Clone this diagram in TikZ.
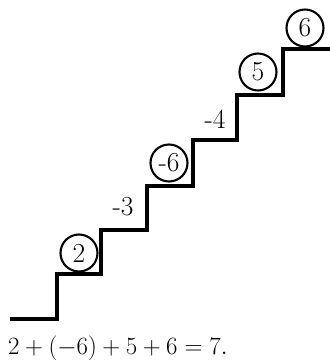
\documentclass[tikz,border=0pt]{standalone}
\begin{document}
\begin{tikzpicture}[x=1pt,y=-1pt,
  stair/.style={line width=4pt,line join=miter},
  num/.style={circle,draw,line width=2.1pt,inner sep=1pt,minimum size=37pt,font=\fontsize{27.5}{32}\selectfont},
  lab/.style={inner sep=0pt,font=\fontsize{27.5}{32}\selectfont}]
\useasboundingbox (0,0) rectangle (330,360);
\draw[stair] (10,319) -- (57,319) -- (57,274) -- (101,274) -- (101,230) -- (147,230)
  -- (147,186) -- (193,186) -- (193,140) -- (237,140) -- (237,95) -- (283,95)
  -- (283,49) -- (332,49);
\node[num] (c2) at (79,253) {2};
\node[num] (c6a) at (169,163) {-6};
\node[num] (c5) at (258,72) {5};
\node[num] (c6) at (305,28) {6};
\node[lab] (m3) at (123,207) {-3};
\node[lab] (m4) at (215,119) {-4};
\node[lab,anchor=base west] (eq) at (8,354) {$2+(-6)+5+6=7.$};
\end{tikzpicture}
\end{document}
